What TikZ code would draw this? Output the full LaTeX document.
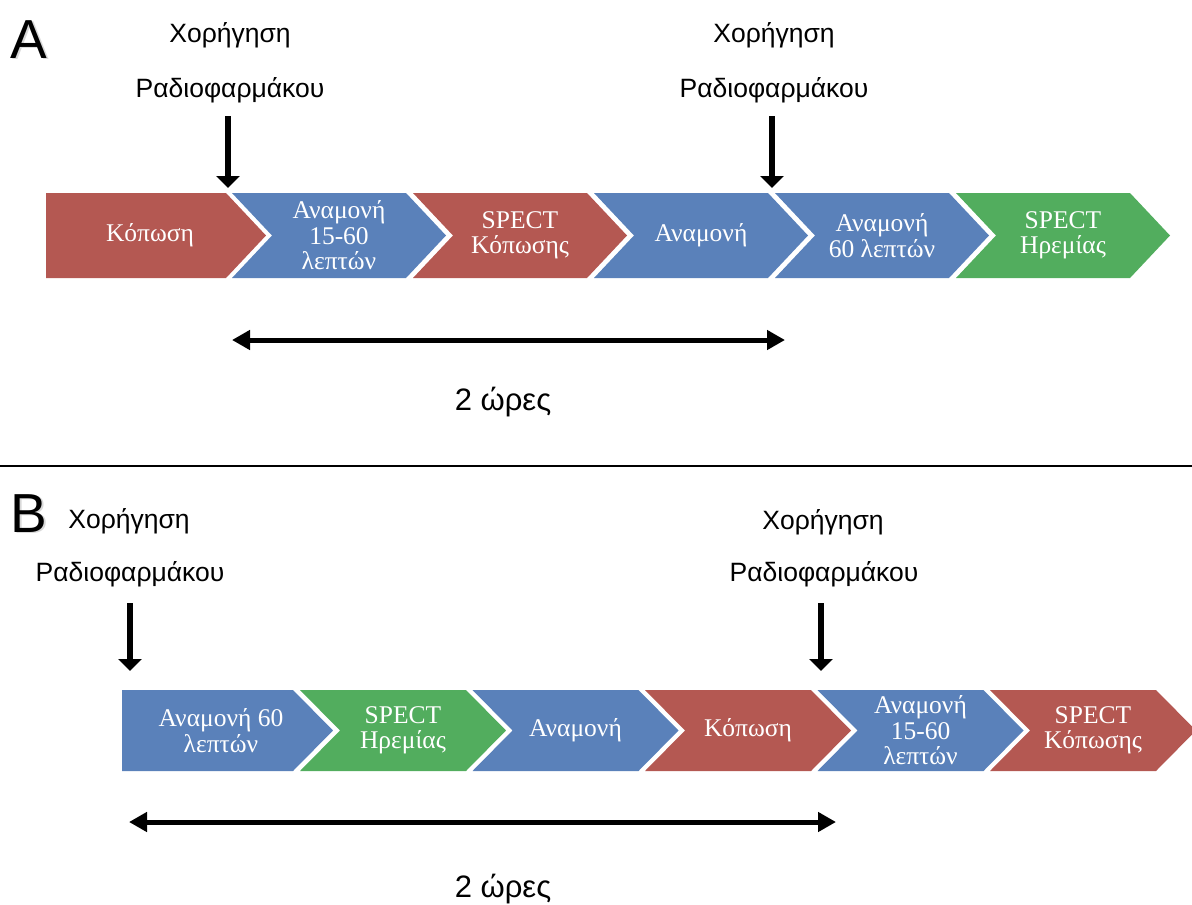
\documentclass[tikz,border=0pt]{standalone}
\usepackage{fontspec}
\setmainfont{Liberation Serif}
\setsansfont{Liberation Sans}
\usetikzlibrary{arrows.meta}
\definecolor{cred}{RGB}{180,88,82}
\definecolor{cblue}{RGB}{90,129,186}
\definecolor{cgreen}{RGB}{82,173,94}
\tikzset{
  lbl/.style={text=white, font=\fontsize{25.5}{25.5}\selectfont, align=center, inner sep=0pt},
  slbl/.style={font=\sffamily\fontsize{26.5}{30}\selectfont, anchor=base, inner sep=0pt},
  hourlbl/.style={font=\sffamily\fontsize{31}{36}\selectfont, anchor=base, inner sep=0pt},
  panellbl/.style={font=\sffamily\fontsize{55}{60}\selectfont, anchor=base, inner sep=0pt},
  varr/.style={line width=6.5pt, -{Triangle[width=23pt,length=12pt]}},
  darr/.style={line width=5pt, {Triangle[width=19pt,length=18pt]}-{Triangle[width=19pt,length=18pt]}},
  sepline/.style={line width=1.5pt}
}
% #1 x (top-left notch), #2 ytop, #3 h, #4 top width, #5 depth, #6 colour, #7 name, #8 text
\newcommand\mychev[8]{%
  \fill[#6] (#1,#2) -- ++(#4,0) -- ++(#5,#3/2) -- ++(-#5,#3/2) -- ++(-#4,0) -- ++(#5,-#3/2) -- cycle;
  \node[lbl] (#7) at ({#1+(#4+#5)/2},{#2+#3/2}) {#8};}
\begin{document}
\begin{tikzpicture}[x=1pt,y=-1pt]
\useasboundingbox (0,0) rectangle (1192,905);
\clip (0,0) rectangle (1192,905);
% ---------------- Panel A ----------------
\node[panellbl, text=black!15] at (30.5,59.5) {A};
\node[panellbl] (pA) at (29,58) {A};
\node[slbl] (hA1) at (230,42) {Χορήγηση};
\node[slbl] (rA1) at (230,97) {Ραδιοφαρμάκου};
\node[slbl] (hA2) at (774,42) {Χορήγηση};
\node[slbl] (rA2) at (774,97) {Ραδιοφαρμάκου};
\coordinate (sA1) at (228,116); \coordinate (tA1) at (228,188);
\coordinate (sA2) at (772,116); \coordinate (tA2) at (772,188);
\draw[varr] (sA1) -- (tA1);
\draw[varr] (sA2) -- (tA2);
\fill[cred] (46,193) -- (226,193) -- (266,235.5) -- (226,278) -- (46,278) -- cycle;
\node[lbl] (cA1) at (150,235.5) {Κόπωση};
\mychev{232}{193}{85}{174}{40}{cblue}{cA2}{Αναμονή\\15-60\\λεπτών}
\mychev{413}{193}{85}{174}{40}{cred}{cA3}{SPECT\\Κόπωσης}
\mychev{594}{193}{85}{174}{40}{cblue}{cA4}{Αναμονή}
\mychev{775}{193}{85}{174}{40}{cblue}{cA5}{Αναμονή\\60 λεπτών}
\mychev{956}{193}{85}{174}{40}{cgreen}{cA6}{SPECT\\Ηρεμίας}
\coordinate (lA) at (232,340); \coordinate (rA) at (785,340);
\draw[darr] (lA) -- (rA);
\node[hourlbl] (tA) at (503,410) {2 ώρες};
% separator
\coordinate (sepL) at (0,466); \coordinate (sepR) at (1192,466);
\draw[sepline] (sepL) -- (sepR);
% ---------------- Panel B ----------------
\node[panellbl, text=black!15] at (30.5,533.5) {B};
\node[panellbl] (pB) at (29,532) {B};
\node[slbl] (hB1) at (129,528) {Χορήγηση};
\node[slbl] (rB1) at (130,581) {Ραδιοφαρμάκου};
\node[slbl] (hB2) at (823,529) {Χορήγηση};
\node[slbl] (rB2) at (824,581) {Ραδιοφαρμάκου};
\coordinate (sB1) at (130,603); \coordinate (tB1) at (130,671);
\coordinate (sB2) at (821,603); \coordinate (tB2) at (821,671);
\draw[varr] (sB1) -- (tB1);
\draw[varr] (sB2) -- (tB2);
\fill[cblue] (122,690) -- (293,690) -- (333,730.5) -- (293,771) -- (122,771) -- cycle;
\node[lbl] (cB1) at (221,730.5) {Αναμονή 60\\λεπτών};
\mychev{300}{690}{81}{166}{40}{cgreen}{cB2}{SPECT\\Ηρεμίας}
\mychev{472.5}{690}{81}{166}{40}{cblue}{cB3}{Αναμονή}
\mychev{645}{690}{81}{166}{40}{cred}{cB4}{Κόπωση}
\mychev{817.5}{690}{81}{166}{40}{cblue}{cB5}{Αναμονή\\15-60\\λεπτών}
\mychev{990}{690}{81}{166}{40}{cred}{cB6}{SPECT\\Κόπωσης}
\coordinate (lB) at (129,822); \coordinate (rB) at (836,822);
\draw[darr] (lB) -- (rB);
\node[hourlbl] (tB) at (503,897) {2 ώρες};
\end{tikzpicture}
\end{document}
